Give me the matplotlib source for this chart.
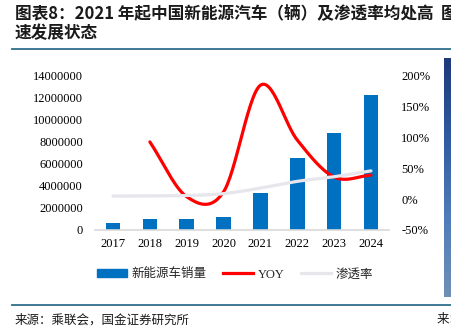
import numpy as np
import matplotlib.pyplot as plt
from matplotlib.patches import Rectangle
from matplotlib.lines import Line2D
from matplotlib.ticker import FuncFormatter
from matplotlib.colors import LinearSegmentedColormap

plt.rcParams['font.family'] = ['Noto Sans CJK SC', 'DejaVu Sans']

years = ['2017', '2018', '2019', '2020', '2021', '2022', '2023', '2024']
sales = [610000, 1000000, 1000000, 1150000, 3340000, 6520000, 8850000, 12270000]
yoy_years = years[1:]
yoy = [93, 4, 12, 185, 96, 36, 39]
penetration = [5, 5.5, 6, 9, 18, 29, 36.5, 46]

BLUE = '#0070C0'
RED = '#FF0000'
GREY = '#E6E6EC'


def catmull_rom(xs, ys, n=30):
    # smooth curve through every point, like a spreadsheet "smoothed line"
    xs = np.asarray(xs, float)
    ys = np.asarray(ys, float)
    px = np.concatenate([[2 * xs[0] - xs[1]], xs, [2 * xs[-1] - xs[-2]]])
    py = np.concatenate([[2 * ys[0] - ys[1]], ys, [2 * ys[-1] - ys[-2]]])
    outx, outy = [], []
    for i in range(1, len(px) - 2):
        t = np.linspace(0, 1, n)
        h00 = 2 * t**3 - 3 * t**2 + 1
        h10 = t**3 - 2 * t**2 + t
        h01 = -2 * t**3 + 3 * t**2
        h11 = t**3 - t**2
        mx0, mx1 = (px[i + 1] - px[i - 1]) / 2, (px[i + 2] - px[i]) / 2
        my0, my1 = (py[i + 1] - py[i - 1]) / 2, (py[i + 2] - py[i]) / 2
        outx.append(h00 * px[i] + h10 * mx0 + h01 * px[i + 1] + h11 * mx1)
        outy.append(h00 * py[i] + h10 * my0 + h01 * py[i + 1] + h11 * my1)
    return np.concatenate(outx), np.concatenate(outy)


W, H = 452, 333
fig = plt.figure(figsize=(W / 100, H / 100), dpi=100)

ax = fig.add_axes([94.6 / W, 1 - 230 / H, 294.8 / W, 154 / H])
x = np.arange(len(years))
ax.bar(x, sales, width=0.4, color=BLUE, zorder=2)
ax.set_xlim(-0.5, len(years) - 0.5)
ax.set_ylim(0, 14000000)
ax.set_yticks(np.arange(0, 14000001, 2000000))
ax.yaxis.set_major_formatter(FuncFormatter(lambda v, p: f'{v:.0f}'))
ax.set_xticks(x)
ax.set_xticklabels(years)
for s in ['top', 'right', 'left']:
    ax.spines[s].set_visible(False)
ax.spines['bottom'].set_color('#D9D9D9')
ax.spines['bottom'].set_linewidth(1.2)
ax.tick_params(axis='both', length=0, labelsize=9)
ax.tick_params(axis='y', pad=8.4)
ax.tick_params(axis='x', pad=6)
for lab in ax.get_xticklabels() + ax.get_yticklabels():
    lab.set_fontfamily('Liberation Serif')

ax2 = ax.twinx()
ax2.set_ylim(-50, 200)
ax2.set_yticks(np.arange(-50, 201, 50))
ax2.yaxis.set_major_formatter(FuncFormatter(lambda v, p: f'{v:.0f}%'))
for s in ['top', 'right', 'left', 'bottom']:
    ax2.spines[s].set_visible(False)
ax2.tick_params(axis='y', length=0, labelsize=9, pad=8.6)
for lab in ax2.get_yticklabels():
    lab.set_fontfamily('Liberation Serif')

sx, sy = catmull_rom(x[1:], yoy)
ax2.plot(sx, sy, color=RED, lw=2.3, solid_capstyle='round', zorder=3)
px_, py_ = catmull_rom(x, penetration)
ax2.plot(px_, py_, color=GREY, lw=2.3, solid_capstyle='round', zorder=4)

handles = [Rectangle((0, 0), 1, 1, color=BLUE),
           Line2D([], [], color=RED, lw=2.3),
           Line2D([], [], color=GREY, lw=2.3)]
leg = fig.legend(handles, ['新能源车销量', 'YOY', '渗透率'], loc='center',
                 bbox_to_anchor=(235 / W, 1 - 274 / H), ncol=3, frameon=False,
                 fontsize=9, handlelength=2.4, handleheight=0.55,
                 handletextpad=0.4, columnspacing=1.3)
for t in leg.get_texts():
    t.set_color('#262626')
    if t.get_text() == 'YOY':
        t.set_fontfamily('Liberation Serif')

# title, wraps onto a second line
fig.text(15 / W, 1 - 14 / H, '图表8：2021 年起中国新能源汽车（辆）及渗透率均处高',
         fontsize=12, fontweight='bold', color='#1A1A1A', va='center', ha='left')
fig.text(15 / W, 1 - 33 / H, '速发展状态', fontsize=12, fontweight='bold',
         color='#1A1A1A', va='center', ha='left')
fig.text(441 / W, 1 - 14 / H, '图', fontsize=12, fontweight='bold',
         color='#1A1A1A', va='center', ha='left')

# rules above and below the chart
fig.add_artist(Line2D([12 / W, 1], [1 - 49 / H] * 2, color='#2F6E8F', lw=1.3))
fig.add_artist(Line2D([12 / W, 1], [1 - 305 / H] * 2, color='#2F6E8F', lw=1.3))

# gradient strip on the right edge
grad = np.linspace(0, 1, 256).reshape(-1, 1)
gax = fig.add_axes([444 / W, 1 - 297 / H, 8 / W, 239 / H])
cmap = LinearSegmentedColormap.from_list('strip', ['#1E3A7B', '#2F5BA0', '#4E7DBA', '#7090B5'])
gax.imshow(grad, aspect='auto', cmap=cmap)
gax.axis('off')

fig.text(15 / W, 1 - 320 / H, '来源：乘联会，国金证券研究所', fontsize=9,
         color='#1A1A1A', va='center', ha='left')
fig.text(437 / W, 1 - 320 / H, '来：', fontsize=9, color='#1A1A1A',
         va='center', ha='left')

fig.savefig('out.png', dpi=100)
